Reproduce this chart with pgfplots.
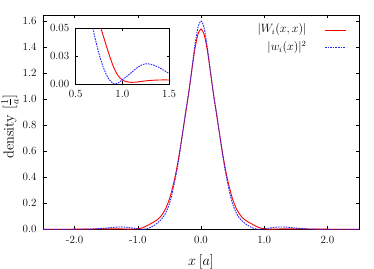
\documentclass[border=0pt]{standalone}
\usepackage{pgfplots}
\pgfplotsset{compat=1.18}
\usepackage{pgfplotstable}

\pgfplotstableread{
x y
-2.50 0.0000
-2.00 0.0008
-1.80 0.0018
-1.60 0.0031
-1.50 0.0036
-1.40 0.0036
-1.30 0.0032
-1.20 0.0023
-1.15 0.0017
-1.10 0.0015
-1.05 0.0020
-1.00 0.0036
-0.95 0.0080
-0.90 0.0165
-0.85 0.0285
-0.80 0.0420
-0.75 0.0555
-0.70 0.0710
-0.65 0.0920
-0.60 0.1240
-0.55 0.1690
-0.50 0.2320
-0.45 0.3200
-0.40 0.4280
-0.35 0.5600
-0.30 0.7120
-0.25 0.8700
-0.20 1.0300
-0.15 1.2050
-0.10 1.3750
-0.05 1.4950
0.00 1.5380
0.05 1.4950
0.10 1.3750
0.15 1.2050
0.20 1.0300
0.25 0.8700
0.30 0.7120
0.35 0.5600
0.40 0.4280
0.45 0.3200
0.50 0.2320
0.55 0.1690
0.60 0.1240
0.65 0.0920
0.70 0.0710
0.75 0.0555
0.80 0.0420
0.85 0.0285
0.90 0.0165
0.95 0.0080
1.00 0.0036
1.05 0.0020
1.10 0.0015
1.15 0.0017
1.20 0.0023
1.30 0.0032
1.40 0.0036
1.50 0.0036
1.60 0.0031
1.80 0.0018
2.00 0.0008
2.50 0.0000
}\reddata

\pgfplotstableread{
x y
-2.50 0.0000
-2.00 0.0003
-1.80 0.0012
-1.70 0.0028
-1.60 0.0055
-1.50 0.0095
-1.45 0.0120
-1.40 0.0145
-1.35 0.0165
-1.30 0.0178
-1.25 0.0181
-1.20 0.0168
-1.15 0.0140
-1.10 0.0105
-1.05 0.0070
-1.00 0.0038
-0.95 0.0007
-0.92 0.0000
-0.90 0.0004
-0.85 0.0050
-0.80 0.0140
-0.75 0.0270
-0.70 0.0440
-0.65 0.0650
-0.60 0.0920
-0.55 0.1350
-0.50 0.1950
-0.45 0.2900
-0.40 0.4050
-0.35 0.5450
-0.30 0.7110
-0.25 0.8800
-0.20 1.0300
-0.15 1.2100
-0.10 1.4000
-0.05 1.5450
0.00 1.6000
0.05 1.5450
0.10 1.4000
0.15 1.2100
0.20 1.0300
0.25 0.8800
0.30 0.7110
0.35 0.5450
0.40 0.4050
0.45 0.2900
0.50 0.1950
0.55 0.1350
0.60 0.0920
0.65 0.0650
0.70 0.0440
0.75 0.0270
0.80 0.0140
0.85 0.0050
0.90 0.0004
0.92 0.0000
0.95 0.0007
1.00 0.0038
1.05 0.0070
1.10 0.0105
1.15 0.0140
1.20 0.0168
1.25 0.0181
1.30 0.0178
1.35 0.0165
1.40 0.0145
1.45 0.0120
1.50 0.0095
1.60 0.0055
1.70 0.0028
1.80 0.0012
2.00 0.0003
2.50 0.0000
}\bluedata

\colorlet{wblue}{blue!85!white}
\tikzset{bluestyle/.style={color=wblue, line width=0.9pt, dash pattern=on 1.6pt off 1pt}}

\begin{document}
\begin{tikzpicture}
\begin{axis}[
  scale only axis,
  width=316pt, height=214.3pt,
  xmin=-2.5, xmax=2.5, ymin=0, ymax=1.646,
  xtick={-2,-1,0,1,2},
  xticklabels={-2.0,-1.0,0.0,1.0,2.0},
  ytick={0,0.2,0.4,0.6,0.8,1.0,1.2,1.4,1.6},
  yticklabels={0.0,0.2,0.4,0.6,0.8,1.0,1.2,1.4,1.6},
  tick align=inside, tick pos=both,
  major tick length=3.5pt,
  tick style={black, line width=0.5pt},
  axis line style={line width=0.6pt},
  tick label style={font=\fontsize{11}{13}\selectfont},
  xticklabel style={yshift=-3pt},
  yticklabel style={xshift=-3pt},
  xlabel={$x\,[a]$},
  ylabel={density $[\frac{1}{a}]$},
  every axis x label/.style={at={(axis description cs:0.5,-0.15)}, anchor=center, font=\fontsize{14.4}{16}\selectfont},
  every axis y label/.style={at={(axis description cs:-0.1044,0.48)}, anchor=center, rotate=90, font=\fontsize{14.4}{16}\selectfont},
]
\addplot[color=red, line width=0.9pt, smooth] table {\reddata};
\addplot[bluestyle, smooth] table {\bluedata};
% legend keys
\addplot[color=red, line width=0.9pt, forget plot] coordinates {(1.962,1.531) (2.290,1.531)};
\addplot[bluestyle, forget plot] coordinates {(1.962,1.395) (2.290,1.395)};
\node[anchor=east, font=\fontsize{11.5}{13}\selectfont, inner sep=0pt] at (axis cs:1.672,1.531) {$|W_i(x,x)|$};
\node[anchor=east, font=\fontsize{11.5}{13}\selectfont, inner sep=0pt] at (axis cs:1.672,1.395) {$|w_i(x)|^2$};
\coordinate (msw) at (rel axis cs:0,0);
\coordinate (mne) at (rel axis cs:1,1);
\end{axis}
\begin{axis}[
  at={(msw)}, anchor=south west, xshift=32.7pt, yshift=145.3pt,
  scale only axis,
  width=93.3pt, height=55.7pt,
  xmin=0.5, xmax=1.5, ymin=0, ymax=0.05,
  scaled y ticks=false, scaled x ticks=false,
  xtick={0.5,1.0,1.5},
  xticklabels={0.5,1.0,1.5},
  ytick={0,0.025,0.05},
  yticklabels={0.00,0.03,0.05},
  tick align=inside, tick pos=both,
  major tick length=2.5pt,
  tick style={black, line width=0.5pt},
  axis line style={line width=0.6pt},
  axis background/.style={fill=white},
  tick label style={font=\fontsize{11}{13}\selectfont},
  xticklabel style={yshift=-3pt},
  yticklabel style={xshift=-3pt},
]
\addplot[color=red, line width=0.9pt, smooth] table {\reddata};
\addplot[bluestyle, smooth] table {\bluedata};
\end{axis}
\pgfresetboundingbox
\path[use as bounding box] ([shift={(-43pt,-39.7pt)}]msw) rectangle ([shift={(15pt,15pt)}]mne);
\end{tikzpicture}
\end{document}
